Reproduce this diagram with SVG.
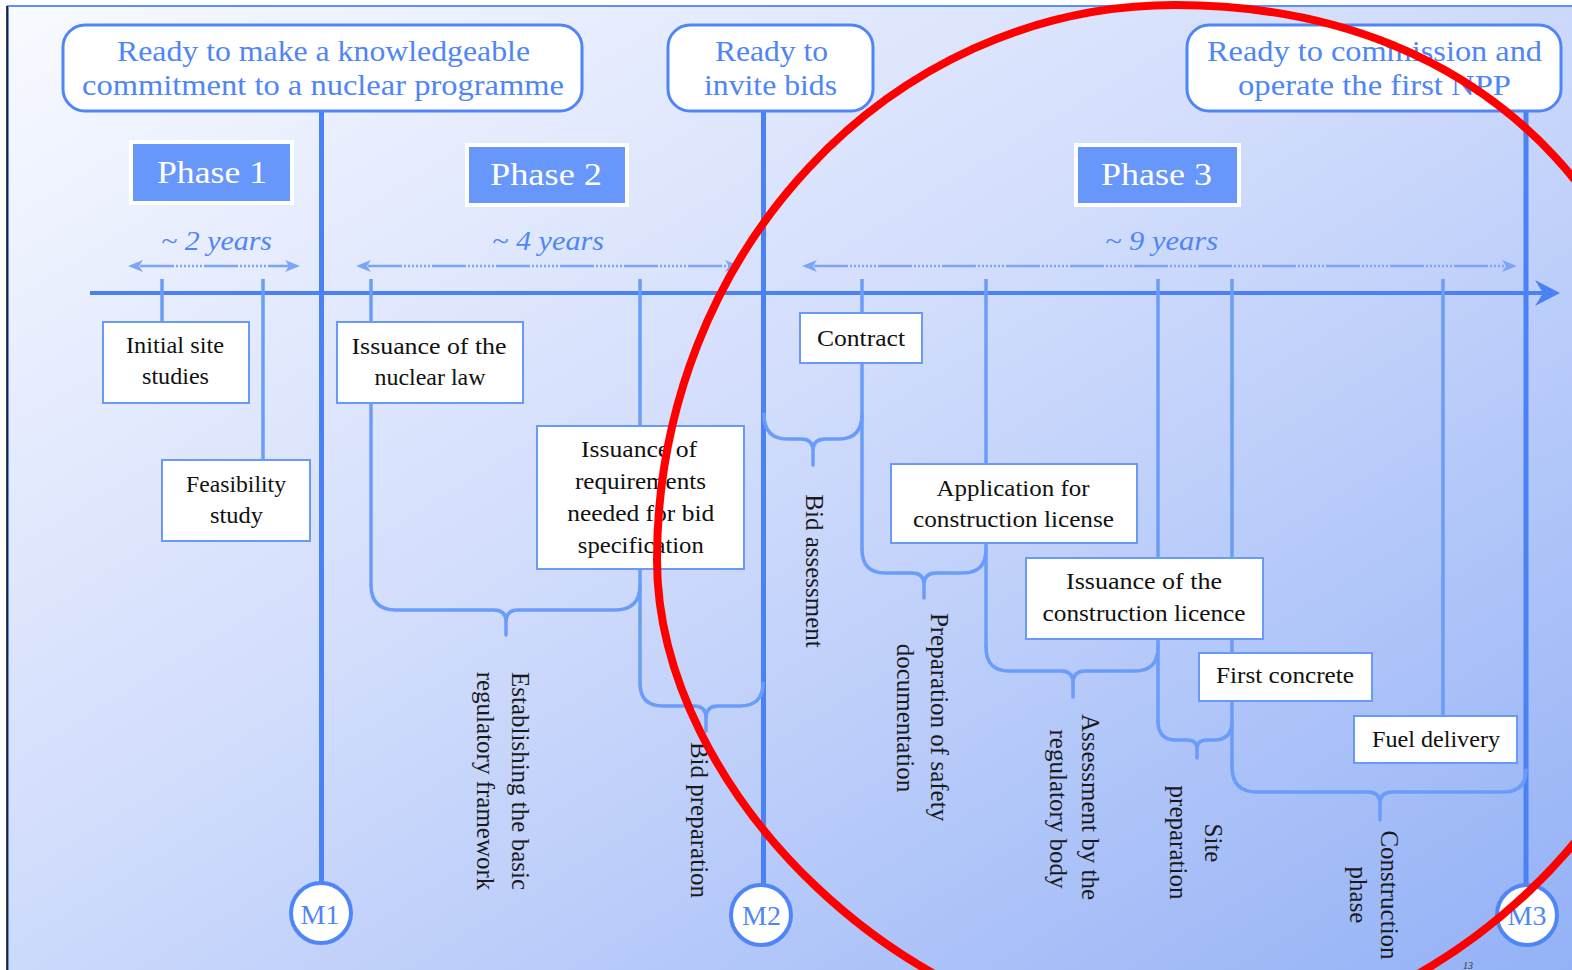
<svg xmlns="http://www.w3.org/2000/svg" width="1572" height="970" viewBox="0 0 1572 970">
<defs>
<linearGradient id="bg" x1="0" y1="0" x2="1" y2="1">
<stop offset="0" stop-color="#f8faff"/>
<stop offset="0.45" stop-color="#d2ddfc"/>
<stop offset="1" stop-color="#93b1f6"/>
</linearGradient>
</defs>
<style>
.ms{fill:#fff;stroke:#4f86f7;stroke-width:3}
.mt{font-family:"Liberation Serif",serif;font-size:30px;fill:#4f86f7;text-anchor:middle}
.ph{fill:#6797fa;stroke:#fff;stroke-width:4}
.pt{font-family:"Liberation Serif",serif;font-size:31px;fill:#fff;text-anchor:middle}
.yr{font-family:"Liberation Serif",serif;font-style:italic;font-size:28px;fill:#4f86f7;text-anchor:middle}
.bx{fill:#fff;stroke:#6a9af8;stroke-width:2}
.bt{font-family:"Liberation Serif",serif;font-size:24px;fill:#111;text-anchor:middle}
.vl{font-family:"Liberation Serif",serif;font-size:25px;fill:#1a1a1a;text-anchor:middle}
.ml{stroke:#4a82f6;stroke-width:5;fill:none}
.ax{stroke:#4a82f6;stroke-width:4;fill:none}
.tk{stroke:#6a9cf9;stroke-width:3.5;fill:none}
.br{stroke:#6a9cf9;stroke-width:3.5;fill:none;stroke-linecap:round;stroke-linejoin:round}
.da{stroke:#7ca4f8;stroke-width:2.5;fill:none;stroke-dasharray:34 2 2 2 2 2 2 2 2 2 2 2 2 2 2 2}
.ah{fill:#7ca4f8}
.mc{fill:#fff;stroke:#4f86f7;stroke-width:4}
.mct{font-family:"Liberation Serif",serif;font-size:28px;fill:#4f86f7;text-anchor:middle}
</style>
<rect x="0" y="0" width="1572" height="970" fill="#ffffff"/>
<rect x="8" y="6" width="1570" height="970" fill="url(#bg)" stroke="#5b8ff9" stroke-width="2"/>
<line x1="7" y1="6" x2="7" y2="970" stroke="#000" stroke-width="1.5"/>

<g id="connectors">
<line class="ml" x1="321.5" y1="111" x2="321.5" y2="883"/>
<line class="ml" x1="763.5" y1="111" x2="763.5" y2="884"/>
<line class="ml" x1="1526" y1="111" x2="1526" y2="884"/>
<line class="ax" x1="90" y1="293" x2="1545" y2="293"/>
<path d="M1560,293 L1535,280 L1543,293 L1535,306 Z" fill="#4a82f6"/>
<line class="tk" x1="162" y1="279" x2="162" y2="322"/>
<line class="tk" x1="263" y1="279" x2="263" y2="460"/>
<line class="tk" x1="371" y1="279" x2="371" y2="322"/>
<line class="tk" x1="371" y1="403" x2="371" y2="586"/>
<line class="tk" x1="640" y1="279" x2="640" y2="426"/>
<line class="tk" x1="640" y1="569" x2="640" y2="684"/>
<line class="tk" x1="862" y1="279" x2="862" y2="313"/>
<line class="tk" x1="862" y1="363" x2="862" y2="550"/>
<line class="tk" x1="986" y1="279" x2="986" y2="464"/>
<line class="tk" x1="986" y1="543" x2="986" y2="648"/>
<line class="tk" x1="1158" y1="279" x2="1158" y2="558"/>
<line class="tk" x1="1158" y1="639" x2="1158" y2="722"/>
<line class="tk" x1="1232" y1="279" x2="1232" y2="653"/>
<line class="tk" x1="1232" y1="701" x2="1232" y2="768"/>
<line class="tk" x1="1443" y1="279" x2="1443" y2="716"/>
<path class="br" d="M371,585 Q371,610 396,610 H494 Q506,610 506,622 V635 M506,622 Q506,610 518,610 H615 Q640,610 640,585"/>
<path class="br" d="M640,683 Q640,706 663,706 H694 Q706,706 706,718 V731 M706,718 Q706,706 718,706 H740 Q763,706 763,683"/>
<path class="br" d="M764,414 Q764,439 787,439 H801 Q813,439 813,451 V465 M813,451 Q813,439 825,439 H839 Q862,439 862,414"/>
<path class="br" d="M862,549 Q862,573 885,573 H912 Q924,573 924,585 V598 M924,585 Q924,573 936,573 H963 Q986,573 986,549"/>
<path class="br" d="M986,647 Q986,671 1009,671 H1061 Q1073,671 1073,683 V697 M1073,683 Q1073,671 1085,671 H1135 Q1158,671 1158,647"/>
<path class="br" d="M1158,721 Q1158,740 1176,740 H1187 Q1197,740 1197,749 V758 M1197,749 Q1197,740 1207,740 H1214 Q1232,740 1232,721"/>
<path class="br" d="M1232,767 Q1232,792 1257,792 H1368 Q1380,792 1380,804 V820 M1380,804 Q1380,792 1392,792 H1503 Q1526,792 1526,770"/>
<line class="da" x1="140" y1="266" x2="289" y2="266"/>
<path class="ah" d="M128,266 L143,260 L139,266 L143,272 Z"/>
<path class="ah" d="M300,266 L285,260 L289,266 L285,272 Z"/>
<line class="da" x1="368" y1="266" x2="729" y2="266"/>
<path class="ah" d="M356,266 L371,260 L367,266 L371,272 Z"/>
<path class="ah" d="M740,266 L725,260 L729,266 L725,272 Z"/>
<line class="da" x1="814" y1="266" x2="1506" y2="266"/>
<path class="ah" d="M802,266 L817,260 L813,266 L817,272 Z"/>
<path class="ah" d="M1517,266 L1502,260 L1506,266 L1502,272 Z"/>
</g>

<g id="ms1">
<rect class="ms" x="63" y="25" width="519" height="86" rx="22"/>
<text class="mt" x="323.5" y="61" textLength="413" lengthAdjust="spacingAndGlyphs">Ready to make a knowledgeable</text>
<text class="mt" x="323" y="95" textLength="482" lengthAdjust="spacingAndGlyphs">commitment to a nuclear programme</text>
</g>
<g id="ms2">
<rect class="ms" x="668" y="25" width="205" height="86" rx="22"/>
<text class="mt" x="771.5" y="61" textLength="113" lengthAdjust="spacingAndGlyphs">Ready to</text>
<text class="mt" x="770.5" y="95" textLength="133" lengthAdjust="spacingAndGlyphs">invite bids</text>
</g>
<g id="ms3">
<rect class="ms" x="1187" y="25" width="374" height="86" rx="22"/>
<text class="mt" x="1374.5" y="61" textLength="335" lengthAdjust="spacingAndGlyphs">Ready to commission and</text>
<text class="mt" x="1374.5" y="95" textLength="273" lengthAdjust="spacingAndGlyphs">operate the first NPP</text>
</g>

<g id="phase1">
<rect class="ph" x="131" y="142" width="161" height="61"/>
<text class="pt" x="212" y="183" textLength="110" lengthAdjust="spacingAndGlyphs">Phase 1</text>
<text class="yr" x="216.5" y="250" textLength="111" lengthAdjust="spacingAndGlyphs">~ 2 years</text>
</g>
<g id="phase2">
<rect class="ph" x="467" y="145" width="160" height="60"/>
<text class="pt" x="546" y="185" textLength="112" lengthAdjust="spacingAndGlyphs">Phase 2</text>
<text class="yr" x="548" y="250" textLength="112" lengthAdjust="spacingAndGlyphs">~ 4 years</text>
</g>
<g id="phase3">
<rect class="ph" x="1076" y="145" width="163" height="60"/>
<text class="pt" x="1156.5" y="185" textLength="111" lengthAdjust="spacingAndGlyphs">Phase 3</text>
<text class="yr" x="1161.5" y="250" textLength="113" lengthAdjust="spacingAndGlyphs">~ 9 years</text>
</g>

<g id="initial-site-studies">
<rect class="bx" x="103" y="322" width="146" height="81"/>
<text class="bt" x="175" y="353" textLength="98" lengthAdjust="spacingAndGlyphs">Initial site</text>
<text class="bt" x="175.5" y="384" textLength="67" lengthAdjust="spacingAndGlyphs">studies</text>
</g>
<g id="feasibility-study">
<rect class="bx" x="162" y="460" width="148" height="81"/>
<text class="bt" x="236" y="492" textLength="100" lengthAdjust="spacingAndGlyphs">Feasibility</text>
<text class="bt" x="236.5" y="523" textLength="53" lengthAdjust="spacingAndGlyphs">study</text>
</g>
<g id="nuclear-law">
<rect class="bx" x="337" y="322" width="186" height="81"/>
<text class="bt" x="429" y="354" textLength="155" lengthAdjust="spacingAndGlyphs">Issuance of  the</text>
<text class="bt" x="430" y="385" textLength="111" lengthAdjust="spacingAndGlyphs">nuclear law</text>
</g>
<g id="bid-requirements">
<rect class="bx" x="537" y="426" width="207" height="143"/>
<text class="bt" x="639" y="457" textLength="116" lengthAdjust="spacingAndGlyphs">Issuance of</text>
<text class="bt" x="640.5" y="488.5" textLength="131" lengthAdjust="spacingAndGlyphs">requirements</text>
<text class="bt" x="640.7" y="520.5" textLength="147" lengthAdjust="spacingAndGlyphs">needed for bid</text>
<text class="bt" x="640.8" y="552.5" textLength="126" lengthAdjust="spacingAndGlyphs">specification</text>
</g>
<g id="contract">
<rect class="bx" x="800" y="313" width="122" height="50"/>
<text class="bt" x="861" y="346" textLength="88" lengthAdjust="spacingAndGlyphs">Contract</text>
</g>
<g id="application-license">
<rect class="bx" x="891" y="464" width="246" height="79"/>
<text class="bt" x="1013" y="496" textLength="153" lengthAdjust="spacingAndGlyphs">Application for</text>
<text class="bt" x="1013.5" y="527" textLength="201" lengthAdjust="spacingAndGlyphs">construction license</text>
</g>
<g id="construction-licence">
<rect class="bx" x="1026" y="558" width="237" height="81"/>
<text class="bt" x="1144" y="589" textLength="156" lengthAdjust="spacingAndGlyphs">Issuance of  the</text>
<text class="bt" x="1144" y="621" textLength="203" lengthAdjust="spacingAndGlyphs">construction licence</text>
</g>
<g id="first-concrete">
<rect class="bx" x="1199" y="653" width="173" height="48"/>
<text class="bt" x="1285" y="683" textLength="138" lengthAdjust="spacingAndGlyphs">First concrete</text>
</g>
<g id="fuel-delivery">
<rect class="bx" x="1354" y="716" width="163" height="47"/>
<text class="bt" x="1436" y="747" textLength="128" lengthAdjust="spacingAndGlyphs">Fuel delivery</text>
</g>

<g id="label-regulatory-framework">
<text class="vl" transform="translate(512,781) rotate(90)">Establishing the basic</text>
<text class="vl" transform="translate(477,781) rotate(90)">regulatory framework</text>
</g>
<g id="label-bid-preparation">
<text class="vl" transform="translate(691,820) rotate(90)">Bid preparation</text>
</g>
<g id="label-bid-assessment">
<text class="vl" transform="translate(806,571) rotate(90)">Bid assessment</text>
</g>
<g id="label-safety-documentation">
<text class="vl" transform="translate(931,717) rotate(90)">Preparation of safety</text>
<text class="vl" transform="translate(897,718) rotate(90)">documentation</text>
</g>
<g id="label-regulatory-assessment">
<text class="vl" transform="translate(1082,807) rotate(90)">Assessment  by  the</text>
<text class="vl" transform="translate(1050,809) rotate(90)">regulatory body</text>
</g>
<g id="label-site-preparation">
<text class="vl" transform="translate(1205,843) rotate(90)">Site</text>
<text class="vl" transform="translate(1170,842.5) rotate(90)">preparation</text>
</g>
<g id="label-construction-phase">
<text class="vl" transform="translate(1381,895) rotate(90)">Construction</text>
<text class="vl" transform="translate(1350,895) rotate(90)">phase</text>
</g>

<g id="m1">
<circle class="mc" cx="321" cy="913" r="30"/>
<text class="mct" x="320" y="924">M1</text>
</g>
<g id="m2">
<circle class="mc" cx="761" cy="915" r="30"/>
<text class="mct" x="761.5" y="925">M2</text>
</g>
<g id="m3">
<circle class="mc" cx="1527" cy="915" r="30"/>
<text class="mct" x="1527" y="925">M3</text>
</g>

<text x="1468" y="969" font-family="Liberation Serif, serif" font-style="italic" font-size="10" fill="#333" text-anchor="middle">13</text>

<path d="M657,560 C657,254 889,5 1175,5 C1500,5 1690,230 1690,540 C1690,810 1430,1041 1178,1041 C908,1041 657,790 657,560 Z" fill="none" stroke="#ff0000" stroke-width="8"/>
</svg>
